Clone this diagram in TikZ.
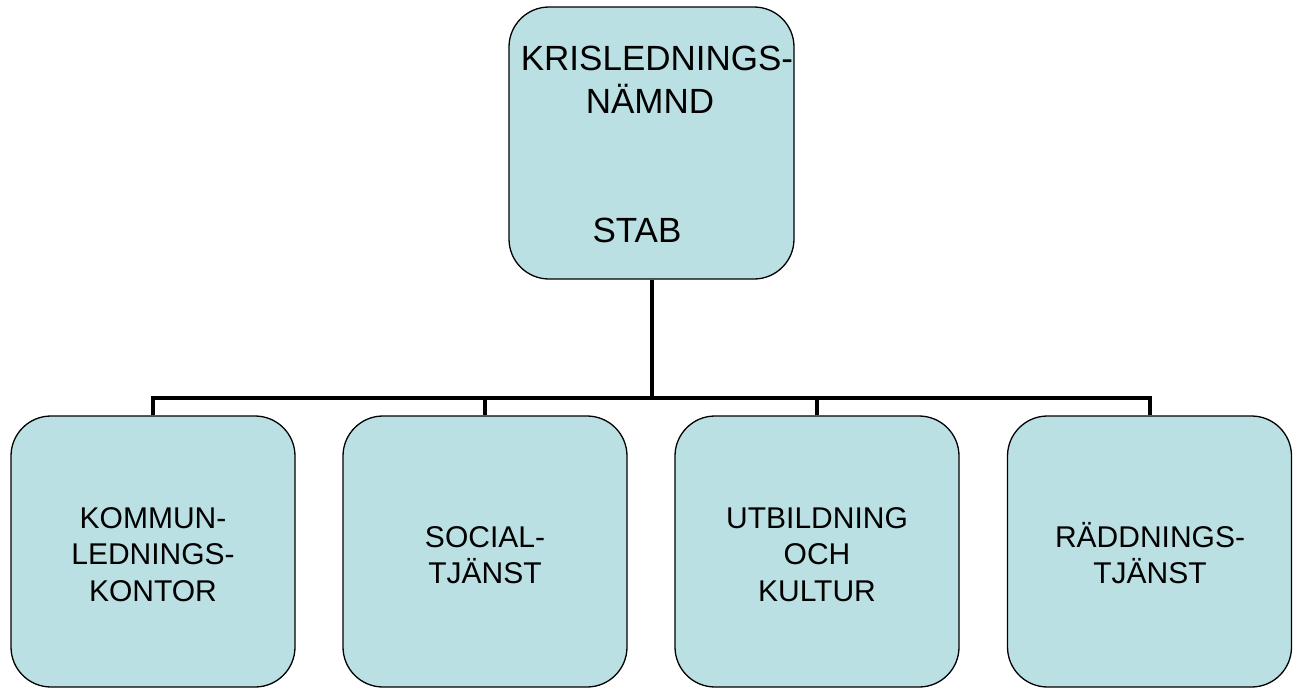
\documentclass[tikz,border=0pt]{standalone}
\usepackage{fontspec}
\setmainfont{Liberation Sans}
\definecolor{boxfill}{RGB}{187,224,227}
\tikzset{
  orgbox/.style={draw=black, line width=1.3pt, fill=boxfill, rounded corners=40pt,
    minimum width=284pt, minimum height=271pt, inner sep=0pt},
  topbox/.style={orgbox, minimum width=285pt, minimum height=272pt},
  toplbl/.style={anchor=base, inner sep=0pt, font=\fontsize{35}{43}\selectfont},
  lbl/.style={anchor=base, inner sep=0pt, font=\fontsize{30}{36.5}\selectfont},
  conn/.style={line width=4pt, line join=miter}
}
\begin{document}
\begin{tikzpicture}[x=1pt,y=-1pt]
\useasboundingbox (0,0) rectangle (1300,688);
% top box
\node[topbox] (top) at (651.5,143) {};
\node[toplbl] (tA) at (657,70) {KRISLEDNINGS-};
\node[toplbl] (tB) at (650,113) {NÄMND};
\node[toplbl] (tC) at (637,242) {STAB};
% bottom boxes
\node[orgbox] (b1) at (153,551.5) {};
\node[orgbox] (b2) at (485,551.5) {};
\node[orgbox] (b3) at (817,551.5) {};
\node[orgbox] (b4) at (1149.5,551.5) {};
% connectors
\coordinate (bar) at (651.5,398);
\draw[conn] (top.south) -- (bar);
\draw[conn] (b1.north) |- (bar);
\draw[conn] (b2.north) |- (bar);
\draw[conn] (b3.north) |- (bar);
\draw[conn] (b4.north) |- (bar);
% labels
\node[lbl] (l1a) at (153,528) {KOMMUN-};
\node[lbl] (l1b) at (153,564.5) {LEDNINGS-};
\node[lbl] (l1c) at (153,601) {KONTOR};
\node[lbl] (l2a) at (485,547) {SOCIAL-};
\node[lbl] (l2b) at (485,583.5) {TJÄNST};
\node[lbl] (l3a) at (817,528) {UTBILDNING};
\node[lbl] (l3b) at (817,564.5) {OCH};
\node[lbl] (l3c) at (817,601) {KULTUR};
\node[lbl] (l4a) at (1150,547) {RÄDDNINGS-};
\node[lbl] (l4b) at (1150,583.5) {TJÄNST};
\end{tikzpicture}
\end{document}
